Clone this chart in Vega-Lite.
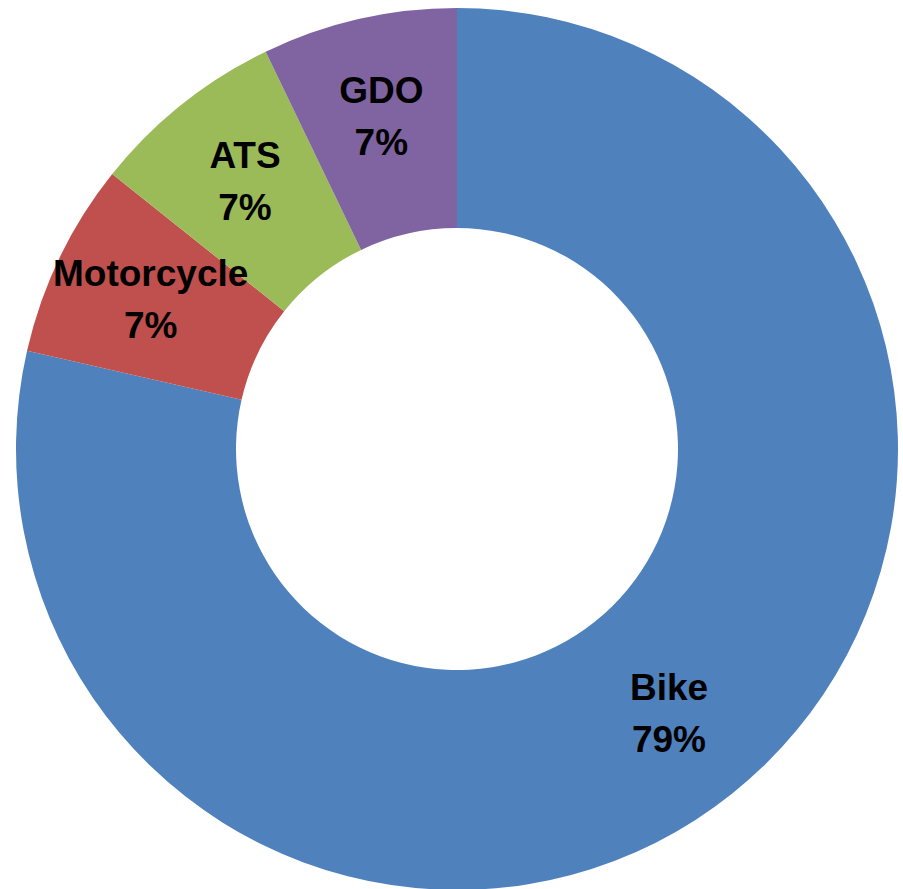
{
  "$schema": "https://vega.github.io/schema/vega-lite/v6.json",
  "autosize": {"type": "none"},
  "width": 882,
  "height": 882,
  "padding": {"left": 16, "top": 8, "right": 0, "bottom": 0},
  "background": "white",
  "view": {"stroke": null},
  "data": {
    "values": [
      {"category": "Bike", "value": 11, "order": 1, "label": "Bike\n79%"},
      {"category": "Motorcycle", "value": 1, "order": 2, "label": "Motorcycle\n7%"},
      {"category": "ATS", "value": 1, "order": 3, "label": "ATS\n7%"},
      {"category": "GDO", "value": 1, "order": 4, "label": "GDO\n7%"}
    ]
  },
  "encoding": {
    "theta": {"field": "value", "type": "quantitative", "stack": true},
    "order": {"field": "order", "type": "quantitative"}
  },
  "layer": [
    {
      "mark": {"type": "arc", "outerRadius": 441, "innerRadius": 221},
      "encoding": {
        "color": {
          "field": "category",
          "type": "nominal",
          "scale": {
            "domain": ["Bike", "Motorcycle", "ATS", "GDO"],
            "range": ["#4F81BD", "#C0504D", "#9BBB59", "#8064A2"]
          },
          "legend": null
        }
      }
    },
    {
      "mark": {
        "type": "text",
        "radius": 340,
        "dy": -26,
        "font": "Liberation Sans",
        "fontWeight": "bold",
        "fontSize": 37,
        "lineHeight": 52,
        "lineBreak": "\n",
        "align": "center",
        "baseline": "middle",
        "color": "black"
      },
      "encoding": {
        "text": {"field": "label", "type": "nominal"}
      }
    }
  ]
}
